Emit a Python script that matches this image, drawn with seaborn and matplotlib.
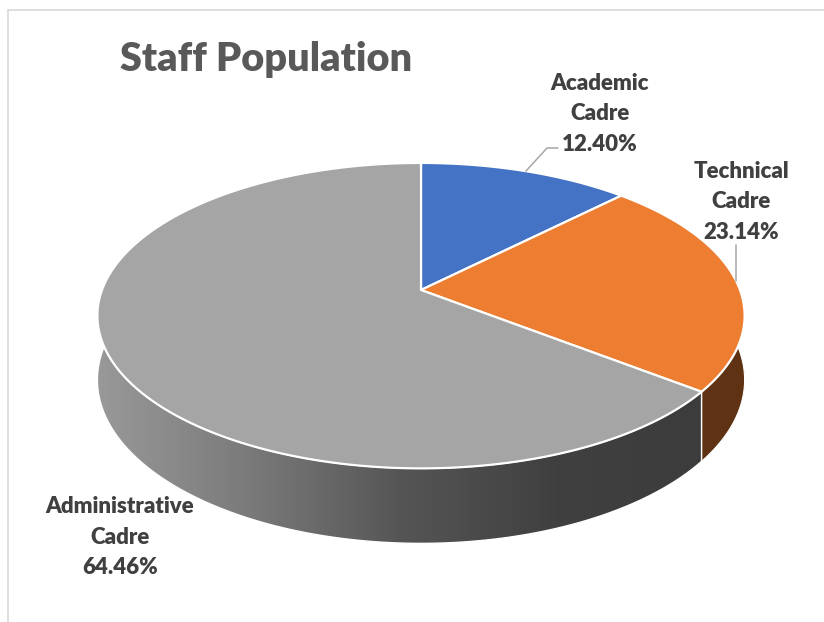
import numpy as np
import matplotlib
matplotlib.use("Agg")
import matplotlib.pyplot as plt
import seaborn as sns
from matplotlib.patches import Polygon
from matplotlib.colors import LinearSegmentedColormap

# ---- data ----
categories = ["Academic\nCadre", "Technical\nCadre", "Administrative\nCadre"]
shares = [12.40, 23.14, 64.46]
top_colors = ["#4472C4", "#ED7D31", "#A5A5A5"]
side_colors = ["#2B4C8A", "#5E3212", "#5A5A5A"]
title = "Staff Population"

sns.set_theme(style="white")
plt.rcParams['font.family'] = ['Lato', 'DejaVu Sans']

W, H = 824, 622
fig = plt.figure(figsize=(W / 100, H / 100), dpi=100)
ax = fig.add_axes([0, 0, 1, 1])
ax.set_xlim(0, W)
ax.set_ylim(H, 0)
ax.axis('off')

# frame
ax.plot([8, W], [10, 10], color="#d9d9d9", lw=1.2, zorder=1)
ax.plot([8, 8], [10, H], color="#d9d9d9", lw=1.2, zorder=1)

# geometry of the tilted disk (perspective)
cx, cy = 421, 290
A, B, k = 319, 148.4, 0.168
D = 62.4


def proj(theta_deg, r=1.0):
    t = np.radians(theta_deg)
    u = r * np.sin(t)
    v = -r * np.cos(t)
    w = 1.0 / (1.0 - k * v)
    return cx + A * u * w, cy + B * v * w, w


total = sum(shares)
edges = np.concatenate([[0], np.cumsum(shares) / total * 360.0])

# ---- sides ----
vis_lo, vis_hi = 60.0, 300.0
for i in range(len(shares)):
    a0, a1 = max(edges[i], vis_lo), min(edges[i + 1], vis_hi)
    if a1 <= a0:
        continue
    th = np.linspace(a0, a1, 200)
    x, y, w = proj(th)
    xb, yb = x, y + D * w
    pts = np.column_stack([np.concatenate([x, xb[::-1]]),
                           np.concatenate([y, yb[::-1]])])
    if i == 2:
        poly = Polygon(pts, closed=True, facecolor="none",
                       edgecolor="white", lw=1.0, zorder=3)
        ax.add_patch(poly)
        cmap = LinearSegmentedColormap.from_list(
            "g", ["#999999", "#7a7a7a", "#555555", "#404040", "#3c3c3c"])
        grad = np.linspace(0, 1, 400).reshape(1, -1)
        im = ax.imshow(grad, cmap=cmap, aspect='auto',
                       extent=[95, 710, 560, 280], zorder=2,
                       interpolation='bilinear')
        im.set_clip_path(poly)
    else:
        poly = Polygon(pts, closed=True, facecolor=side_colors[i],
                       edgecolor="white", lw=0.8, zorder=2)
        ax.add_patch(poly)

# ---- top ----
for i in range(len(shares)):
    th = np.linspace(edges[i], edges[i + 1], 300)
    x, y, _ = proj(th)
    pts = np.column_stack([np.concatenate([[cx], x]),
                           np.concatenate([[cy], y])])
    ax.add_patch(Polygon(pts, closed=True, facecolor=top_colors[i],
                         edgecolor="white", lw=1.6, joinstyle='round',
                         zorder=4))

# ---- labels ----
txt_kw = dict(color="#404040", fontsize=16, fontweight="heavy",
              ha="center", va="center", linespacing=1.57, zorder=6)
lab_pos = [(600, 114), (741, 202), (120, 537)]
labels = [f"{c}\n{s:.2f}%" for c, s in zip(categories, shares)]
for (lx, ly), lab in zip(lab_pos, labels):
    ax.text(lx, ly, lab, **txt_kw)

# leader lines
mid0 = (edges[0] + edges[1]) / 2
ax0, ay0, _ = proj(mid0)
ax.plot([ax0, 547, 558], [ay0, 148, 148], color="#a6a6a6", lw=1.1, zorder=5)
mid1 = (edges[1] + edges[2]) / 2
ax1, ay1, _ = proj(mid1)
ax.plot([ax1, ax1], [ay1, 245], color="#a6a6a6", lw=1.1, zorder=5)

ax.text(120, 59, title, color="#595959", fontsize=28.5, fontweight="heavy",
        ha="left", va="center", zorder=6)

fig.savefig("out.png", dpi=100)
